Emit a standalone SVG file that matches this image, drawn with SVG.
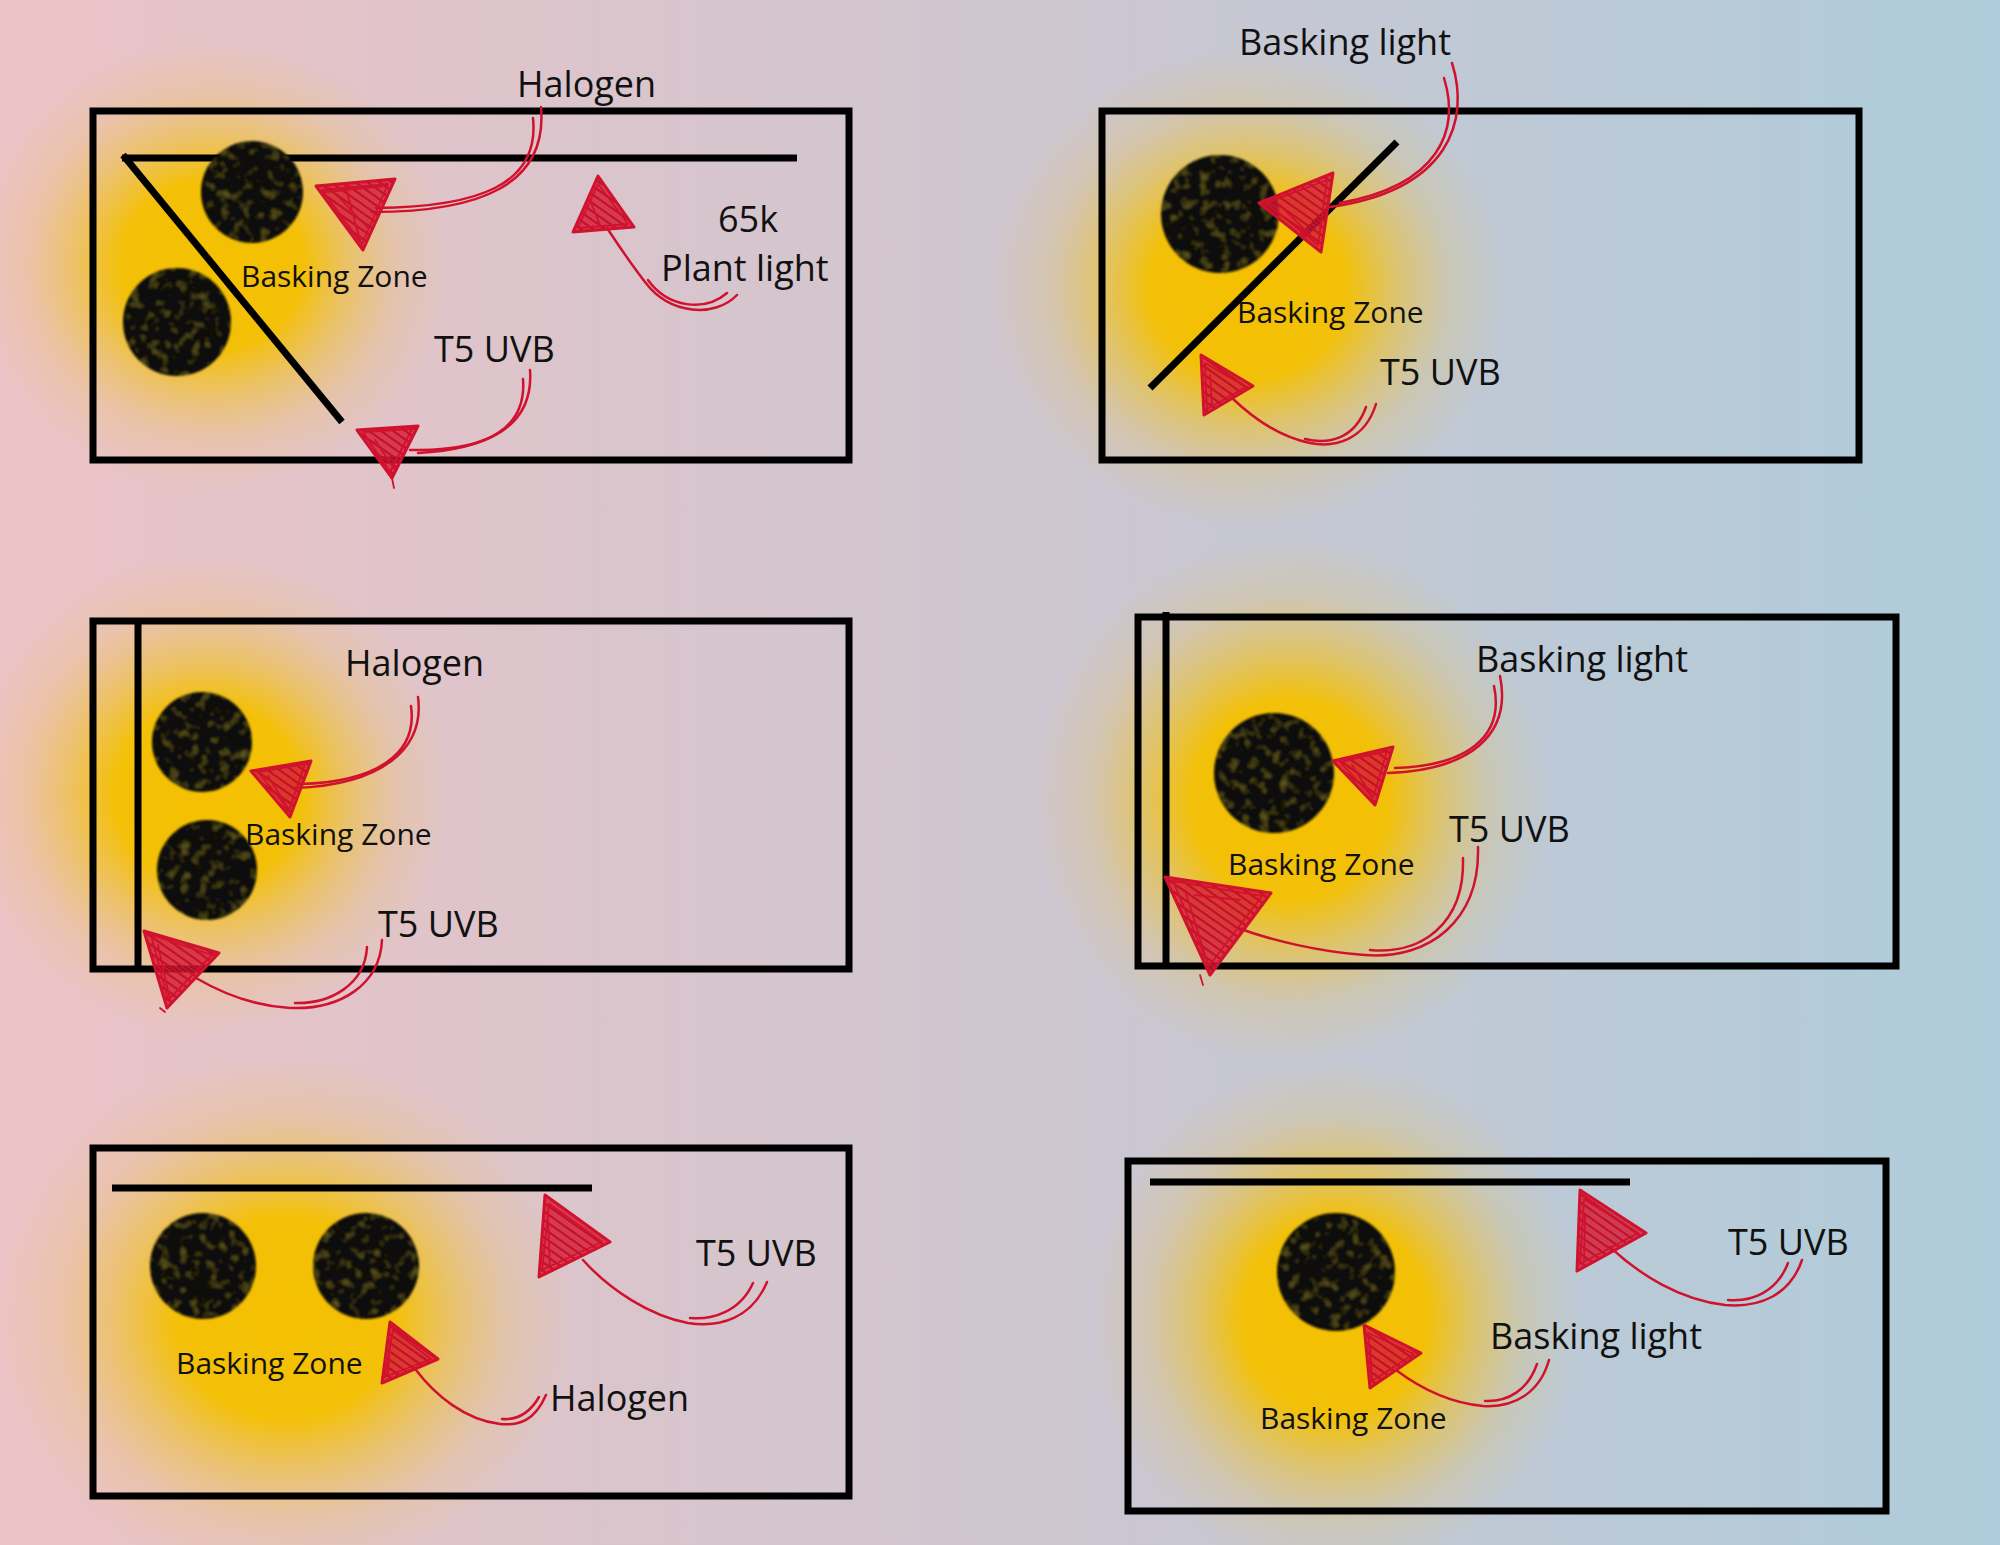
<svg xmlns="http://www.w3.org/2000/svg" width="2000" height="1545" viewBox="0 0 2000 1545">
<defs>
<linearGradient id="bg" x1="0" y1="0" x2="1" y2="0">
<stop offset="0" stop-color="#ECC3C6"/>
<stop offset="0.5" stop-color="#CFC6D0"/>
<stop offset="1" stop-color="#AECCDB"/>
</linearGradient>
<radialGradient id="glow">
<stop offset="0" stop-color="#F5C000" stop-opacity="1"/>
<stop offset="0.38" stop-color="#F4C000" stop-opacity="0.96"/>
<stop offset="0.58" stop-color="#F0C020" stop-opacity="0.55"/>
<stop offset="0.78" stop-color="#EEC040" stop-opacity="0.2"/>
<stop offset="1" stop-color="#EEC040" stop-opacity="0"/>
</radialGradient>
<pattern id="hatch" patternUnits="userSpaceOnUse" width="7" height="7" patternTransform="rotate(35)">
<rect width="7" height="7" fill="#D1122E" fill-opacity="0.7"/>
<line x1="0" y1="1.5" x2="7" y2="1.5" stroke="#C80E2A" stroke-width="2.6"/>
<line x1="0" y1="5" x2="7" y2="5" stroke="#DA2540" stroke-width="1.2"/>
</pattern>
<filter id="tex" x="-10%" y="-10%" width="120%" height="120%">
<feTurbulence type="fractalNoise" baseFrequency="0.1" numOctaves="2" seed="3" result="n"/>
<feColorMatrix in="n" type="matrix" values="0 0 0 0 0.24  0 0 0 0 0.2  0 0 0 0 0.03  0 0 0 -1.3 0.62" result="spk"/>
<feComposite in="spk" in2="SourceGraphic" operator="in" result="spk2"/>
<feMerge result="m"><feMergeNode in="SourceGraphic"/><feMergeNode in="spk2"/></feMerge>
<feGaussianBlur in="m" stdDeviation="1.3"/>
</filter>
</defs>
<style>
.tank{fill:none;stroke:#000;stroke-width:7}
.bar{stroke:#000;stroke-width:7;fill:none}
.stone{fill:#0d0c07;filter:url(#tex)}
.lbl{font-family:"Open Sans","DejaVu Sans",sans-serif;font-size:36px;fill:#111}
.zone{font-size:30px}
.shaft{fill:none;stroke:#D1122E;stroke-width:2.5;stroke-linecap:round}
.head{fill:url(#hatch);stroke:#D1122E;stroke-width:3;stroke-linejoin:round}
.sk{fill:none;stroke:#D1122E;stroke-width:1.8;stroke-linejoin:round;stroke-linecap:round}
</style>
<rect x="0" y="0" width="2000" height="1545" fill="url(#bg)"/>

<g id="panel-1">
<ellipse cx="212" cy="265" rx="240" ry="225" fill="url(#glow)"/>
<rect class="tank" x="93" y="111" width="756" height="349"/>
<line class="bar" x1="122" y1="158" x2="797" y2="158"/>
<line class="bar" x1="123" y1="155" x2="342" y2="422"/>
<circle class="stone" cx="252" cy="192" r="51"/>
<circle class="stone" cx="177" cy="322" r="54"/>
<text class="lbl" x="517" y="97">Halogen</text>
<text class="lbl" x="718" y="232">65k</text>
<text class="lbl" x="661" y="281">Plant light</text>
<text class="lbl zone" x="241" y="287">Basking Zone</text>
<text class="lbl" x="434" y="362">T5 UVB</text>
</g>

<g id="panel-2">
<ellipse cx="1248" cy="288" rx="260" ry="240" fill="url(#glow)"/>
<rect class="tank" x="1102" y="111" width="757" height="349"/>
<line class="bar" x1="1397" y1="142" x2="1150" y2="388"/>
<circle class="stone" cx="1220" cy="214" r="59"/>
<text class="lbl" x="1239" y="55">Basking light</text>
<text class="lbl zone" x="1237" y="323">Basking Zone</text>
<text class="lbl" x="1380" y="385">T5 UVB</text>
</g>

<g id="panel-3">
<ellipse cx="208" cy="795" rx="245" ry="240" fill="url(#glow)"/>
<rect class="tank" x="93" y="621" width="756" height="348"/>
<line class="bar" x1="138" y1="621" x2="138" y2="969"/>
<circle class="stone" cx="202" cy="742" r="50"/>
<circle class="stone" cx="207" cy="870" r="50"/>
<text class="lbl" x="345" y="676">Halogen</text>
<text class="lbl zone" x="245" y="845">Basking Zone</text>
<text class="lbl" x="378" y="937">T5 UVB</text>
</g>

<g id="panel-4">
<ellipse cx="1290" cy="800" rx="260" ry="265" fill="url(#glow)"/>
<rect class="tank" x="1138" y="617" width="758" height="349"/>
<line class="bar" x1="1166" y1="612" x2="1166" y2="966"/>
<circle class="stone" cx="1274" cy="773" r="60"/>
<text class="lbl" x="1476" y="672">Basking light</text>
<text class="lbl" x="1449" y="842">T5 UVB</text>
<text class="lbl zone" x="1228" y="875">Basking Zone</text>
</g>

<g id="panel-5">
<ellipse cx="285" cy="1318" rx="290" ry="265" fill="url(#glow)"/>
<rect class="tank" x="93" y="1148" width="756" height="348"/>
<line class="bar" x1="112" y1="1188" x2="592" y2="1188"/>
<circle class="stone" cx="203" cy="1266" r="53"/>
<circle class="stone" cx="366" cy="1266" r="53"/>
<text class="lbl" x="696" y="1266">T5 UVB</text>
<text class="lbl" x="550" y="1411">Halogen</text>
<text class="lbl zone" x="176" y="1374">Basking Zone</text>
</g>

<g id="panel-6">
<ellipse cx="1335" cy="1318" rx="245" ry="260" fill="url(#glow)"/>
<rect class="tank" x="1128" y="1161" width="758" height="350"/>
<line class="bar" x1="1150" y1="1182" x2="1630" y2="1182"/>
<circle class="stone" cx="1336" cy="1272" r="59"/>
<text class="lbl" x="1728" y="1255">T5 UVB</text>
<text class="lbl" x="1490" y="1349">Basking light</text>
<text class="lbl zone" x="1260" y="1429">Basking Zone</text>
</g>

<g id="connectors">
<!-- P1 halogen -->
<path class="shaft" d="M541,107 C548,185 480,212 372,212"/>
<path class="shaft" d="M533,118 C540,185 478,207 376,208"/>
<polygon class="head" points="316,186 395,179 363,250"/>
<path class="sk" d="M322,190 L388,184 L362,244 Z M330,188 L368,228 M345,185 L360,240 M325,192 L385,186"/>
<!-- P1 plant light -->
<path class="shaft" d="M737,295 C715,318 670,315 645,282 C628,260 615,240 607,228"/>
<path class="shaft" d="M727,293 C705,312 668,308 648,280"/>
<polygon class="head" points="598,176 573,232 634,227"/>
<path class="sk" d="M598,184 L578,228 L628,224 Z M590,200 L600,225"/>
<!-- P1 T5 -->
<path class="shaft" d="M530,370 C534,425 490,452 410,450"/>
<path class="shaft" d="M523,379 C527,430 485,449 418,453"/>
<polygon class="head" points="357,430 418,426 392,478"/>
<path class="sk" d="M363,432 L412,429 L390,472 Z M375,440 L395,470 M392,478 L394,488"/>
<!-- P2 basking light -->
<path class="shaft" d="M1452,63 C1470,120 1450,190 1330,207"/>
<path class="shaft" d="M1444,78 C1460,130 1440,185 1340,203"/>
<polygon class="head" points="1259,203 1333,173 1321,252"/>
<path class="sk" d="M1266,203 L1327,180 L1318,245 Z M1280,205 L1315,240"/>
<!-- P2 T5 -->
<path class="shaft" d="M1376,404 C1365,440 1335,448 1310,443 C1280,437 1255,420 1232,398"/>
<path class="shaft" d="M1366,407 C1355,438 1330,445 1305,439"/>
<polygon class="head" points="1201,355 1253,386 1204,415"/>
<path class="sk" d="M1205,363 L1246,387 L1207,409 Z M1210,375 L1212,405"/>
<!-- P3 halogen -->
<path class="shaft" d="M418,697 C425,750 380,785 295,788"/>
<path class="shaft" d="M411,706 C418,755 375,782 300,784"/>
<polygon class="head" points="251,771 311,761 290,817"/>
<path class="sk" d="M258,772 L305,764 L289,810 Z M268,776 L288,808"/>
<!-- P3 T5 -->
<path class="shaft" d="M382,940 C380,985 340,1010 290,1008 C255,1006 225,995 196,978"/>
<path class="shaft" d="M367,947 C365,985 330,1004 295,1003"/>
<polygon class="head" points="144,931 219,953 167,1008"/>
<path class="sk" d="M151,935 L212,955 L168,1000 Z M158,945 L170,1000 M160,1008 L165,1012"/>
<!-- P4 basking light -->
<path class="shaft" d="M1500,676 C1512,735 1470,770 1388,773"/>
<path class="shaft" d="M1494,686 C1505,738 1465,766 1395,768"/>
<polygon class="head" points="1333,761 1393,747 1375,805"/>
<path class="sk" d="M1340,762 L1387,751 L1373,798 Z M1352,765 L1372,796"/>
<!-- P4 T5 -->
<path class="shaft" d="M1478,847 C1480,920 1430,960 1365,955 C1320,952 1270,940 1238,928"/>
<path class="shaft" d="M1463,858 C1465,925 1420,955 1370,950"/>
<polygon class="head" points="1165,877 1271,893 1210,975"/>
<path class="sk" d="M1173,881 L1262,896 L1209,966 Z M1185,890 L1208,965 M1195,895 L1240,900 M1200,975 L1203,985"/>
<!-- P5 T5 -->
<path class="shaft" d="M767,1282 C752,1318 720,1328 688,1323 C650,1316 610,1290 583,1260"/>
<path class="shaft" d="M753,1283 C740,1312 712,1320 690,1318"/>
<polygon class="head" points="545,1195 610,1242 539,1277"/>
<path class="sk" d="M549,1204 L602,1242 L542,1270 Z M548,1220 L550,1268"/>
<!-- P5 halogen -->
<path class="shaft" d="M546,1395 C535,1420 520,1426 500,1424 C465,1420 435,1395 416,1370"/>
<path class="shaft" d="M539,1397 C528,1416 515,1420 502,1419"/>
<polygon class="head" points="390,1322 438,1359 382,1383"/>
<path class="sk" d="M393,1330 L431,1359 L385,1377 Z M390,1340 L388,1375"/>
<!-- P6 T5 -->
<path class="shaft" d="M1802,1260 C1790,1295 1760,1308 1725,1305 C1680,1300 1640,1275 1610,1247"/>
<path class="shaft" d="M1788,1263 C1777,1292 1752,1302 1728,1300"/>
<polygon class="head" points="1580,1190 1646,1233 1577,1271"/>
<path class="sk" d="M1584,1199 L1638,1233 L1580,1264 Z M1585,1215 L1584,1262"/>
<!-- P6 basking light -->
<path class="shaft" d="M1549,1360 C1540,1392 1515,1408 1483,1406 C1450,1403 1420,1388 1396,1370"/>
<path class="shaft" d="M1537,1364 C1528,1390 1508,1402 1485,1401"/>
<polygon class="head" points="1364,1325 1421,1353 1370,1388"/>
<path class="sk" d="M1368,1333 L1414,1354 L1372,1381 Z M1370,1345 L1372,1380"/>
</g>
</svg>
